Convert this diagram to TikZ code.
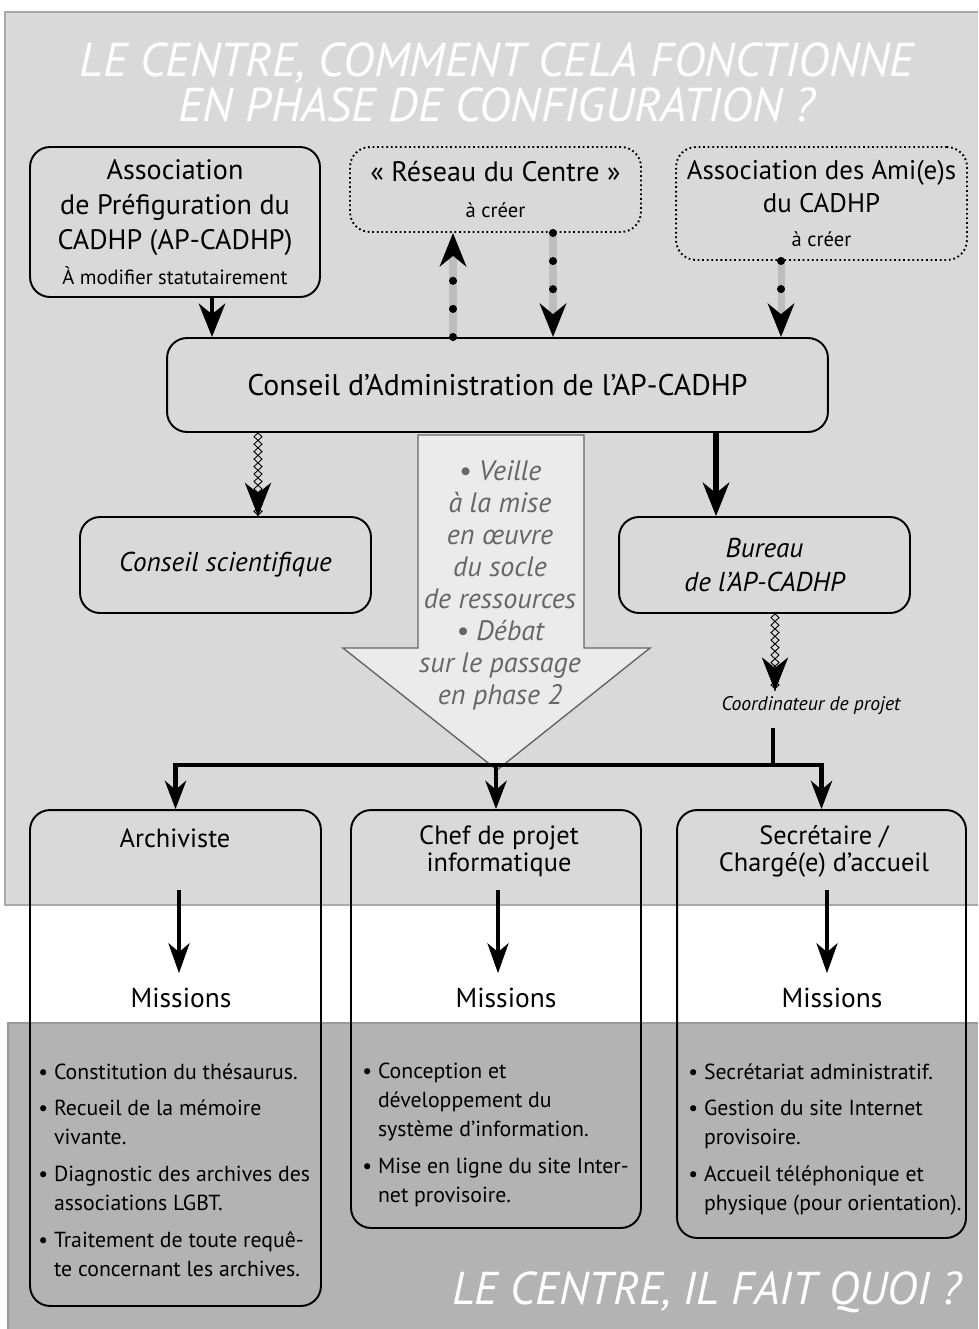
\documentclass[tikz,border=0pt]{standalone}
\usepackage{fontspec}
\setmainfont{PT Sans}
\usepackage{tikz}
\usetikzlibrary{positioning,calc,shapes,arrows.meta,decorations.pathmorphing,decorations.markings}
\definecolor{fondA}{HTML}{D9D9D9}
\definecolor{fondB}{HTML}{B3B3B3}
\definecolor{filetA}{HTML}{A8A8A8}
\definecolor{filetB}{HTML}{999999}
\definecolor{gris}{HTML}{BDBDBD}
\definecolor{flecheF}{HTML}{EBEBEB}
\definecolor{flecheT}{HTML}{666666}
\tikzstyle{boite}=[draw, rounded corners=0.4cm, line width=1.1pt, align=center, inner sep=2pt, font=\fontsize{16}{20}\selectfont]
\tikzstyle{projet}=[boite, dash pattern=on 1pt off 1.6pt]
\tikzstyle{txt}=[align=center, font=\fontsize{15}{15.4}\selectfont]
\tikzstyle{liste}=[align=left, anchor=north west, inner sep=0pt, font=\fontsize{12.4}{16.5}\selectfont]
\tikzstyle{titre}=[align=center, text=white, font=\fontsize{27}{25.6}\selectfont\itshape]
\tikzstyle{grand}=[-{Stealth[length=19pt,width=15pt,inset=6pt]}, line width=2.8pt]
\tikzstyle{branche}=[-{Stealth[length=16pt,width=12pt,inset=5pt]}, line width=2.8pt]
\tikzstyle{fine}=[-{Stealth[length=17pt,width=12pt,inset=5pt]}, line width=2pt]
\tikzstyle{pointille}=[draw=gris, line width=4pt, -{Stealth[color=black,length=19pt,width=15pt,inset=6pt]}, postaction={draw=black, -, line width=4.6pt, line cap=round, dash pattern=on 0pt off 16pt, shorten >=12pt}]
\tikzstyle{chaine}=[draw=none,
  postaction={draw, line width=0.5pt, decorate, decoration={zigzag, segment length=8.5pt, amplitude=2.3pt}},
  postaction={draw, line width=0.5pt, decorate, decoration={zigzag, segment length=8.5pt, amplitude=2.3pt, mirror}},
  postaction={decorate, decoration={markings, mark=at position 1 with {\arrow{Stealth[length=19pt,width=15pt,inset=6pt]}}}}]
\newcommand{\ind}{\phantom{•\ }}

\begin{document}
\begin{tikzpicture}[x=0.02cm, y=-0.02cm]
\useasboundingbox (0,0) rectangle (978,1329);
\fill[white] (0,0) rectangle (978,1329);
\fill[fondA] (5,12) rectangle (978,905);
\draw[filetA, line width=0.8pt] (978,12) -- (5,12) -- (5,905) -- (978,905);
\fill[fondB] (8,1023) rectangle (978,1329);
\draw[filetB, line width=0.8pt] (978,1023) -- (8,1023) -- (8,1329);

\node[titre] (haut) at (497,82) {LE CENTRE, COMMENT CELA FONCTIONNE\\EN PHASE DE CONFIGURATION ?};
\node[titre, font=\fontsize{26.2}{25.6}\selectfont\itshape] (bas) at (707,1292) {LE CENTRE, IL FAIT QUOI ?};

\draw[flecheT, fill=flecheF, line width=0.8pt] (418,435) -- (584,435) -- (584,648) -- (650,648) -- (497,770) -- (343,648) -- (418,648) -- cycle;
\node[align=center, text=flecheT, font=\fontsize{16}{18.2}\selectfont\itshape] (veille) at (500,585) {• Veille\\à la mise\\en œuvre\\du socle\\de ressources\\• Débat\\sur le passage\\en phase 2};

\node[boite, minimum width=5.8cm, minimum height=3cm] (apc) at (175,222) {Association\\de Préfiguration du\\CADHP (AP-CADHP)\\{\fontsize{11.7}{14}\selectfont À modifier statutairement}};
\node[projet, minimum width=5.82cm, minimum height=1.7cm] (reseau) at (495.5,189.5) {«~Réseau du Centre~»\\[1pt]{\fontsize{11.7}{14}\selectfont à créer}};
\node[projet, minimum width=5.82cm, minimum height=2.26cm, font=\fontsize{15.3}{19}\selectfont] (amis) at (821.5,203.5) {Association des Ami(e)s\\du CADHP\\{\fontsize{11.7}{14}\selectfont à créer}};
\node[boite, minimum width=13.22cm, minimum height=1.88cm, font=\fontsize{17}{20}\selectfont] (ca) at (497.5,385) {Conseil d’Administration de l’AP-CADHP};
\node[boite, minimum width=5.82cm, minimum height=1.92cm, font=\fontsize{15.5}{19}\selectfont\itshape] (cs) at (225.5,565) {Conseil scientifique};
\node[boite, minimum width=5.82cm, minimum height=1.92cm, font=\fontsize{15.5}{19}\selectfont\itshape] (bureau) at (764.5,565) {Bureau\\de l’AP-CADHP};
\node[font=\fontsize{11.2}{12}\selectfont\itshape] (coord) at (811,706) {Coordinateur de projet};

\node[boite, minimum width=5.82cm, minimum height=9.92cm] (arch) at (175.5,1058) {};
\node[boite, minimum width=5.8cm, minimum height=8.36cm] (chef) at (496,1019) {};
\node[boite, minimum width=5.78cm, minimum height=8.56cm] (secr) at (821.5,1024) {};

\node[txt] (archT) at (175,838) {Archiviste};
\node[txt] (chefT) at (499,851) {Chef de projet\\informatique};
\node[txt] (secrT) at (824,851) {Secrétaire /\\Chargé(e) d’accueil};
\coordinate (archA) at (179,890);
\coordinate (chefA) at (498,890);
\coordinate (secrA) at (827,890);
\node[txt, font=\fontsize{15.6}{16}\selectfont] (archM) at (181,998) {Missions};
\node[txt, font=\fontsize{15.6}{16}\selectfont] (chefM) at (506,998) {Missions};
\node[txt, font=\fontsize{15.6}{16}\selectfont] (secrM) at (832,998) {Missions};

\node[liste] (archL) at (38,1063) {• Constitution du thésaurus.\\[4.5pt]
• Recueil de la mémoire\\\ind vivante.\\[4.5pt]
• Diagnostic des archives des\\\ind associations LGBT.\\[4.5pt]
• Traitement de toute requê-\\\ind te concernant les archives.};
\node[liste] (chefL) at (362,1063) {• Conception et\\\ind développement du\\\ind système d’information.\\[4.5pt]
• Mise en ligne du site Inter-\\\ind net provisoire.};
\node[liste] (secrL) at (688,1063) {• Secrétariat administratif.\\[4.5pt]
• Gestion du site Internet\\\ind provisoire.\\[4.5pt]
• Accueil téléphonique et\\\ind physique (pour orientation).};

\draw[grand] ([xshift=0.74cm]apc.south) -- ([xshift=0.74cm]apc.south |- ca.north);
\draw[pointille] ([xshift=-0.85cm]reseau.south |- ca.north) -- ([xshift=-0.85cm]reseau.south);
\draw[pointille] ([xshift=1.15cm]reseau.south) -- ([xshift=1.15cm]reseau.south |- ca.north);
\draw[pointille] ([xshift=-0.81cm]amis.south) -- ([xshift=-0.81cm]amis.south |- ca.north);
\draw[chaine] ([xshift=0.65cm]cs.north |- ca.south) -- ([xshift=0.65cm]cs.north);
\draw[grand, line width=3.2pt] ([xshift=-0.97cm]bureau.north |- ca.south) -- ([xshift=-0.97cm]bureau.north);
\draw[chaine] ([xshift=0.21cm]bureau.south) -- ([xshift=0.21cm]bureau.south |- coord.north);

\coordinate (noeud) at (773,765);
\draw[line width=2.8pt, shorten <=4pt] (coord.south -| noeud) -- (noeud);
\draw[branche, line join=miter] (noeud) -| (arch.north);
\draw[branche, line join=miter] (noeud) -| (chef.north);
\draw[branche, line join=miter] (noeud) -| (secr.north);

\draw[fine, shorten >=5pt] (archA) -- (archA |- archM.north);
\draw[fine, shorten >=5pt] (chefA) -- (chefA |- chefM.north);
\draw[fine, shorten >=5pt] (secrA) -- (secrA |- secrM.north);
\end{tikzpicture}
\end{document}
